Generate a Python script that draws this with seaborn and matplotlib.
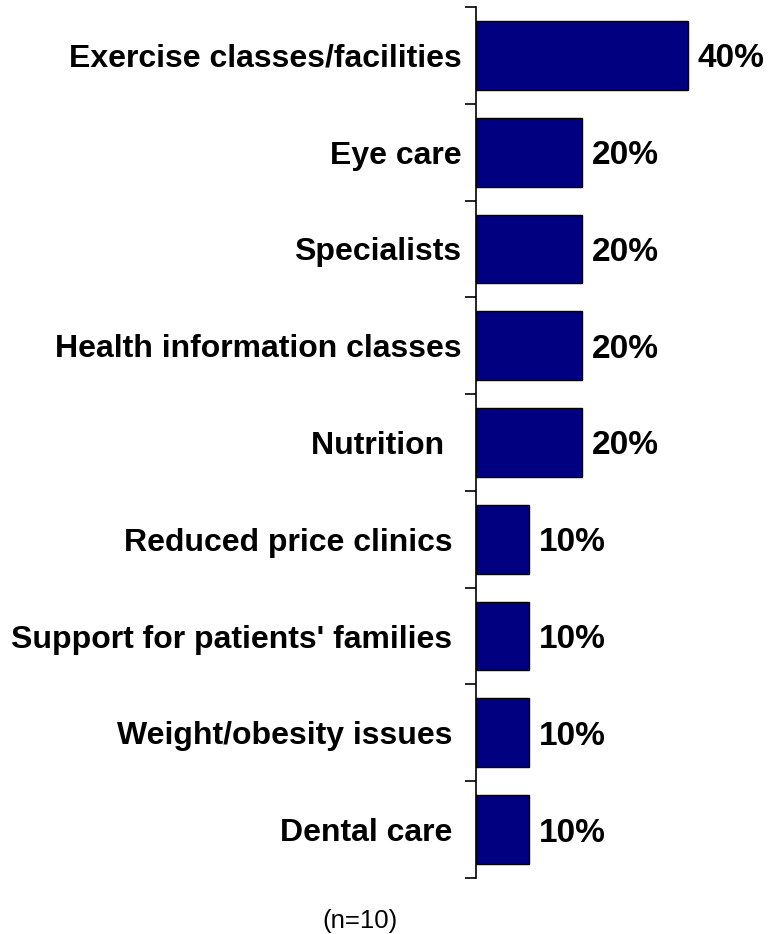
import matplotlib
matplotlib.use("Agg")
import matplotlib.pyplot as plt
from matplotlib.ticker import FixedLocator, NullFormatter
import seaborn as sns
import pandas as pd

categories = [
    "Exercise classes/facilities",
    "Eye care",
    "Specialists",
    "Health information classes",
    "Nutrition  ",
    "Reduced price clinics ",
    "Support for patients' families ",
    "Weight/obesity issues ",
    "Dental care ",
]
shares = [40, 20, 20, 20, 20, 10, 10, 10, 10]
value_labels = ["40%", "20%", "20%", "20%", "20%", "10%", "10%", "10%", "10%"]
note = "(n=10)"

df = pd.DataFrame({"category": categories, "share": shares})

sns.set_theme(style="white")
plt.rcParams["font.family"] = ["Liberation Sans", "DejaVu Sans"]

fig = plt.figure(figsize=(7.72, 9.34), dpi=100)
ax = fig.add_axes([0.6166, 0.060, 0.343, 0.9325])

sns.barplot(data=df, y="category", x="share", orient="h", ax=ax,
            color="#000080", saturation=1, width=0.71,
            edgecolor="black", linewidth=1.0)

ax.set_xlim(0, 50)
ax.set_ylim(len(categories) - 0.5, -0.5)
ax.set_xlabel("")
ax.set_ylabel("")
ax.set_xticks([])

for side in ("top", "right", "bottom"):
    ax.spines[side].set_visible(False)
ax.spines["left"].set_color("black")
ax.spines["left"].set_linewidth(1.2)

# category labels on major ticks (no tick line), boundary ticks as minor ticks
ax.tick_params(axis="y", which="major", length=0, pad=10.5,
               labelsize=23, labelcolor="black")
for lbl in ax.get_yticklabels():
    lbl.set_fontweight("bold")
    lbl.set_verticalalignment("center_baseline")
ax.yaxis.set_minor_locator(FixedLocator([i - 0.5 for i in range(len(categories) + 1)]))
ax.yaxis.set_minor_formatter(NullFormatter())
ax.tick_params(axis="y", which="minor", direction="out", length=8,
               width=1.2, color="black", left=True)

texts = ax.bar_label(ax.containers[0], labels=value_labels, padding=7,
                     fontsize=24, fontweight="bold", color="black")
for t in texts:
    t.set_verticalalignment("center_baseline")

fig.text(360 / 772, 1 - 921 / 934, note, ha="center", va="center",
         fontsize=18.5, color="black")

fig.savefig("out.png", dpi=100)
